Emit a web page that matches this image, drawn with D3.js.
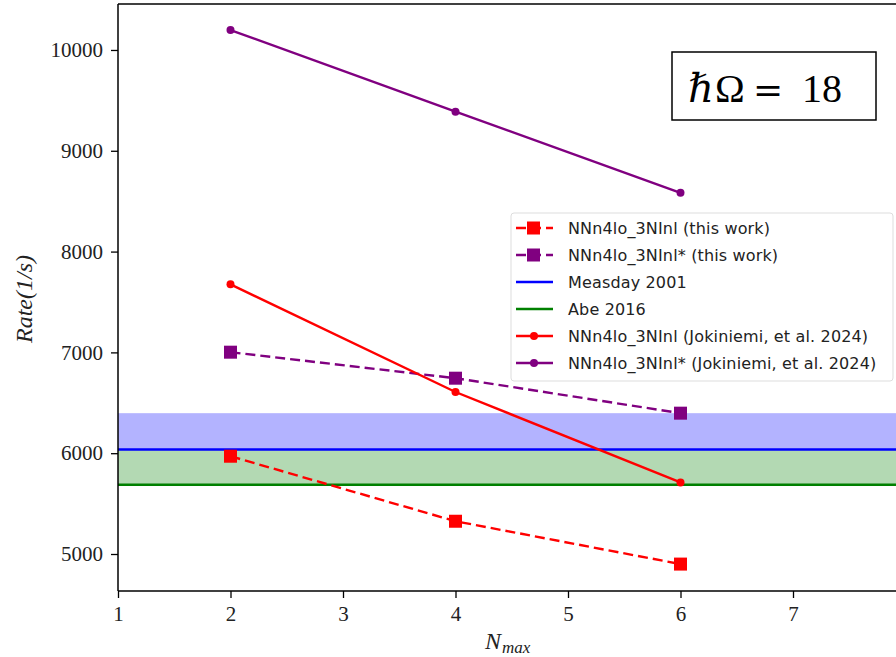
<!DOCTYPE html>
<html>
<head>
<meta charset="utf-8">
<script src="https://cdn.jsdelivr.net/npm/d3@7"></script>
<style>
  body { margin: 0; background: #fff; }
  svg { display: block; }
</style>
</head>
<body>
<svg width="896" height="657"></svg>
<script>
// Data
let nmax = [2, 4, 6];
let thisWork = [5970, 5325, 4900];
let thisWorkStar = [7002, 6744, 6397];
let jokiniemi = [7675, 6607, 5710];
let jokiniemiStar = [10198, 9388, 8583];
let measday = 6036, measdayUpper = 6397;
let abe = 5687;
let xTicks = [1, 2, 3, 4, 5, 6, 7];
let yTicks = [5000, 6000, 7000, 8000, 9000, 10000];
let legendLabels = [
  "NNn4lo_3NInl (this work)",
  "NNn4lo_3NInl* (this work)",
  "Measday 2001",
  "Abe 2016",
  "NNn4lo_3NInl (Jokiniemi, et al. 2024)",
  "NNn4lo_3NInl* (Jokiniemi, et al. 2024)"
];

let svg = d3.select("svg");
let width = +svg.attr("width");
let plotLeft = 118, plotTop = 4, plotBottom = 591;
let plotRight = width;

let x = d3.scaleLinear().domain([1, 8]).range([plotLeft, plotLeft + 7 * 112.5]);
let y = d3.scaleLinear().domain([4633, 10456]).range([plotBottom, plotTop]);

let serif = "'Liberation Serif', 'DejaVu Serif', serif";
let sans = "'DejaVu Sans', sans-serif";

// bands
svg.append("rect")
  .attr("x", plotLeft).attr("width", plotRight - plotLeft)
  .attr("y", y(measdayUpper)).attr("height", y(measday) - y(measdayUpper))
  .attr("fill", "#b3b3ff");
svg.append("rect")
  .attr("x", plotLeft).attr("width", plotRight - plotLeft)
  .attr("y", y(measday)).attr("height", y(abe) - y(measday))
  .attr("fill", "#b3d9b3");

// horizontal reference lines
svg.append("line")
  .attr("x1", plotLeft).attr("x2", plotRight)
  .attr("y1", y(measday)).attr("y2", y(measday))
  .attr("stroke", "blue").attr("stroke-width", 2.4);
svg.append("line")
  .attr("x1", plotLeft).attr("x2", plotRight)
  .attr("y1", y(abe)).attr("y2", y(abe))
  .attr("stroke", "green").attr("stroke-width", 2.4);

let line = d3.line().x(d => x(d[0])).y(d => y(d[1]));

function series(vals, color, dashed, square) {
  let pts = nmax.map((n, i) => [n, vals[i]]);
  svg.append("path")
    .datum(pts)
    .attr("d", line)
    .attr("fill", "none")
    .attr("stroke", color)
    .attr("stroke-width", 2.4)
    .attr("stroke-dasharray", dashed ? "10,5" : null);
  if (square) {
    svg.append("g").selectAll("rect")
      .data(pts).enter().append("rect")
      .attr("x", d => x(d[0]) - 6.5).attr("y", d => y(d[1]) - 6.5)
      .attr("width", 13).attr("height", 13)
      .attr("fill", color);
  } else {
    svg.append("g").selectAll("circle")
      .data(pts).enter().append("circle")
      .attr("cx", d => x(d[0])).attr("cy", d => y(d[1]))
      .attr("r", 4)
      .attr("fill", color);
  }
}

series(thisWork, "red", true, true);
series(thisWorkStar, "purple", true, true);
series(jokiniemi, "red", false, false);
series(jokiniemiStar, "purple", false, false);

// axes
let xAxis = d3.axisBottom(x).tickValues(xTicks).tickSize(7).tickPadding(8).tickFormat(d3.format("d"));
let gx = svg.append("g").attr("transform", `translate(0,${plotBottom})`).call(xAxis);
gx.select(".domain").remove();
gx.append("line").attr("x1", plotLeft).attr("x2", plotRight).attr("stroke", "black").attr("stroke-width", 1.5);

let yAxis = d3.axisLeft(y).tickValues(yTicks).tickSize(7).tickPadding(8).tickFormat(d3.format("d"));
let gy = svg.append("g").attr("transform", `translate(${plotLeft},0)`).call(yAxis);
gy.select(".domain").remove();
gy.append("line").attr("y1", plotTop).attr("y2", plotBottom).attr("stroke", "black").attr("stroke-width", 1.5);

svg.selectAll(".tick line").attr("stroke-width", 1.3);
svg.selectAll(".tick text").attr("font-family", serif).attr("font-size", 21).attr("fill", "#222");

// top spine
svg.append("line").attr("x1", plotLeft).attr("x2", plotRight).attr("y1", plotTop).attr("y2", plotTop)
  .attr("stroke", "black").attr("stroke-width", 1.5);

// axis labels
let xl = svg.append("text")
  .attr("x", 485).attr("y", 649)
  .attr("font-family", serif).attr("font-size", 24).attr("font-style", "italic")
  .attr("fill", "#222");
xl.append("tspan").text("N");
xl.append("tspan").attr("font-size", 17).attr("dy", 4).attr("dx", 1).text("max");

svg.append("text")
  .attr("transform", "translate(32,299) rotate(-90)")
  .attr("text-anchor", "middle")
  .attr("font-family", serif).attr("font-size", 24).attr("font-style", "italic")
  .attr("fill", "#222")
  .text("Rate(1/s)");

// legend
let lg = svg.append("g");
lg.append("rect")
  .attr("x", 511).attr("y", 213).attr("width", 382).attr("height", 168)
  .attr("rx", 3).attr("fill", "white").attr("fill-opacity", 0.8)
  .attr("stroke", "#ddd");
let handles = [
  { color: "red", dash: "10,5", mark: "square" },
  { color: "purple", dash: "10,5", mark: "square" },
  { color: "blue", dash: null, mark: null },
  { color: "green", dash: null, mark: null },
  { color: "red", dash: null, mark: "circle" },
  { color: "purple", dash: null, mark: "circle" }
];
legendLabels.forEach((lab, i) => {
  let cy = 228 + i * 27;
  let h = handles[i];
  lg.append("line").attr("x1", 516).attr("x2", 553).attr("y1", cy).attr("y2", cy)
    .attr("stroke", h.color).attr("stroke-width", 2.4).attr("stroke-dasharray", h.dash);
  if (h.mark === "square") {
    lg.append("rect").attr("x", 527).attr("y", cy - 6.5).attr("width", 13).attr("height", 13).attr("fill", h.color);
  } else if (h.mark === "circle") {
    lg.append("circle").attr("cx", 534).attr("cy", cy).attr("r", 4).attr("fill", h.color);
  }
  lg.append("text").attr("x", 568).attr("y", cy).attr("dy", "0.35em")
    .attr("font-family", sans).attr("font-size", 16).attr("letter-spacing", 0.15)
    .attr("fill", "#222").text(lab);
});

// hbar Omega box
svg.append("rect")
  .attr("x", 672).attr("y", 52).attr("width", 204).attr("height", 68)
  .attr("fill", "white").attr("stroke", "black").attr("stroke-width", 1.5);
let ht = svg.append("text")
  .attr("y", 102)
  .attr("font-family", serif).attr("font-size", 40);
ht.append("tspan").attr("x", 688).attr("font-style", "italic").text("ℏ");
ht.append("tspan").attr("x", 715).text("Ω");
ht.append("tspan").attr("x", 753).attr("font-family", "'DejaVu Serif', serif").attr("font-size", 36).text("=");
ht.append("tspan").attr("x", 802).text("18");
</script>
</body>
</html>
